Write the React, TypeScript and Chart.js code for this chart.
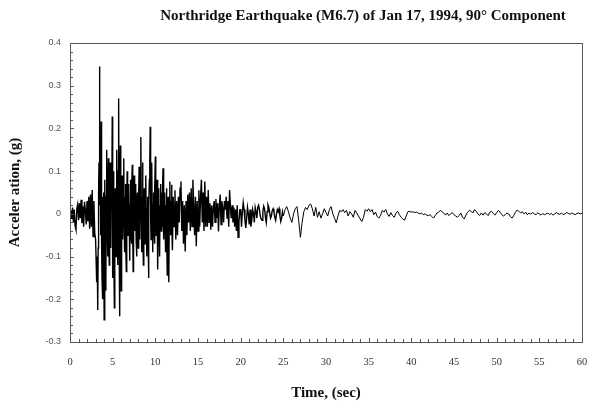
import React, { useEffect, useRef } from "react";
import { Chart, registerables } from "chart.js";

Chart.register(...registerables);

// Acceleration (g), every 0.1 s, 0.0 – 2.9 s
const accelPre: number[] = [
  0.000, 0.008, -0.012, 0.015, -0.020, 0.010, -0.028, -0.037, 0.012, 0.022,
  -0.015, 0.025, -0.010, 0.033, -0.022, 0.018, -0.030, 0.028, 0.010, -0.025,
  0.030, -0.018, 0.040, -0.035, 0.045, -0.030, 0.056, -0.053, 0.030, -0.045,
];

// Acceleration (g), every 0.05 s, 3.00 – 11.95 s (one row per second)
const accelStrong: number[] = [
  -0.060, -0.100, -0.140, -0.160, -0.120, -0.225, -0.080, 0.050, 0.120, 0.345, 0.020, 0.100, -0.050, 0.216, -0.060, -0.150, 0.040, -0.200, -0.100, 0.050,
  -0.248, -0.040, 0.080, -0.060, -0.180, 0.040, 0.150, -0.020, -0.100, 0.060, 0.130, -0.050, -0.120, 0.030, 0.120, -0.060, -0.080, 0.100, 0.020, 0.228,
  -0.150, 0.040, 0.100, -0.080, -0.220, 0.020, 0.060, -0.060, -0.100, 0.080, 0.150, -0.030, -0.120, 0.100, 0.270, -0.050, -0.240, 0.060, 0.160, -0.040,
  -0.180, 0.030, 0.090, -0.040, -0.060, 0.080, 0.130, -0.020, -0.090, 0.040, 0.070, -0.070, -0.135, 0.020, 0.100, -0.030, -0.050, 0.070, 0.060, -0.020,
  -0.110, 0.020, 0.080, -0.050, -0.070, 0.060, 0.115, -0.040, -0.135, 0.030, 0.090, -0.010, -0.040, 0.050, 0.070, -0.060, -0.100, 0.020, 0.050, -0.030,
  -0.080, 0.050, 0.110, -0.020, -0.060, 0.070, 0.180, 0.030, -0.090, 0.040, 0.120, -0.040, -0.120, 0.010, 0.060, -0.030, -0.070, 0.040, 0.090, -0.020,
  -0.100, 0.010, 0.040, -0.060, -0.150, 0.020, 0.080, 0.120, 0.204, -0.010, -0.060, 0.050, 0.120, -0.030, -0.090, 0.020, 0.050, -0.040, -0.070, 0.060,
  0.134, 0.020, -0.050, 0.030, 0.080, -0.060, -0.130, 0.010, 0.060, -0.040, -0.100, 0.020, 0.070, -0.010, -0.040, 0.050, -0.030, 0.060, 0.107, -0.020,
  -0.060, 0.010, 0.050, -0.040, -0.090, 0.020, 0.060, -0.050, -0.143, 0.010, 0.040, -0.070, -0.160, 0.030, 0.076, -0.010, -0.050, 0.030, 0.068, -0.020,
];

// Acceleration (g), every 0.1 s, 12.0 – 24.9 s (one row per second)
const accelCoda: number[] = [
  -0.085, 0.040, -0.030, 0.055, -0.060, 0.030, -0.050, 0.040, -0.020, 0.060,
  0.076, -0.040, 0.030, -0.070, 0.020, -0.088, 0.030, -0.050, 0.045, -0.020,
  0.050, -0.040, 0.060, -0.030, 0.080, 0.020, -0.050, 0.040, -0.076, 0.030,
  -0.040, 0.055, -0.030, 0.040, 0.080, -0.020, 0.050, -0.040, 0.076, -0.030,
  0.040, -0.030, 0.056, -0.020, 0.025, -0.037, 0.020, -0.030, 0.015, 0.030,
  -0.020, 0.035, -0.010, 0.025, -0.041, 0.020, 0.045, -0.025, 0.030, 0.015,
  -0.020, 0.030, 0.010, 0.040, -0.010, 0.030, -0.030, 0.056, 0.015, -0.010,
  0.020, -0.020, 0.015, -0.030, 0.010, -0.040, 0.020, -0.055, -0.020, 0.010,
  0.010, -0.030, 0.005, 0.026, 0.010, -0.015, -0.033, -0.010, 0.015, 0.000,
  -0.025, 0.010, -0.030, -0.015, 0.010, 0.000, -0.020, 0.015, 0.005, -0.010,
  0.015, 0.020, 0.010, -0.005, -0.012, -0.015, 0.005, 0.018, 0.012, -0.008,
  -0.020, 0.005, 0.021, 0.015, 0.003, -0.010, -0.005, 0.008, 0.012, 0.004,
  -0.008, -0.015, 0.000, 0.010, 0.005, 0.012, -0.005, -0.018, -0.010, 0.005,
];

// Acceleration (g), every 0.2 s, 25.0 – 60.0 s
const accelTail: number[] = [
  -0.005, 0.010, 0.017, 0.005, -0.010,
  -0.020, 0.000, 0.012, 0.017, -0.015,
  -0.055, -0.020, 0.005, 0.015, 0.010,
  0.020, 0.023, 0.012, -0.005, 0.015,
  -0.008, 0.005, -0.010, 0.000, 0.012,
  0.003, -0.005, 0.010, 0.017, 0.000,
  -0.010, -0.021, -0.005, 0.008, 0.005,
  0.010, 0.003, 0.008, -0.005, 0.005,
  0.000, -0.008, 0.008, 0.002, -0.005,
  -0.012, -0.018, -0.008, 0.010, 0.006,
  0.012, 0.005, 0.010, -0.002, 0.004,
  -0.006, -0.010, -0.003, 0.008, 0.004,
  0.010, 0.000, -0.006, 0.003, -0.004,
  -0.008, 0.002, 0.006, -0.002, -0.008,
  -0.012, -0.015, -0.005, 0.005, 0.006,
  0.004, 0.005, 0.003, 0.004, 0.002,
  0.000, 0.002, -0.002, 0.000, -0.003,
  -0.004, -0.002, -0.006, -0.010, -0.004,
  0.002, 0.004, 0.008, 0.005, 0.002,
  -0.003, 0.002, -0.004, 0.000, 0.003,
  -0.002, -0.005, -0.008, -0.004, 0.002,
  -0.008, -0.012, -0.003, 0.004, 0.008,
  0.006, 0.002, 0.010, 0.006, 0.000,
  -0.004, 0.002, -0.003, 0.003, 0.000,
  -0.004, 0.004, 0.006, 0.001, -0.003,
  0.003, 0.008, 0.004, -0.002, -0.005,
  -0.002, 0.002, 0.000, -0.006, -0.010,
  -0.004, 0.004, 0.009, 0.006, 0.002,
  0.005, 0.000, 0.004, -0.002, 0.002,
  -0.001, 0.003, 0.000, -0.002, 0.002,
  0.000, -0.003, 0.001, -0.002, 0.000,
  0.002, -0.002, 0.001, -0.003, 0.000,
  0.003, 0.000, -0.001, 0.002, -0.002,
  0.000, 0.003, 0.001, -0.001, 0.002,
  0.000, -0.002, 0.001, 0.002, 0.000,
  0.001,
];

// segments: [start time (s), sample step (s), values]
const segments: [number, number, number[]][] = [
  [0, 0.1, accelPre],
  [3, 0.05, accelStrong],
  [12, 0.1, accelCoda],
  [25, 0.2, accelTail],
];

const yTickValues = [-0.3, -0.2, -0.1, 0, 0.1, 0.2, 0.3, 0.4];
const xTickValues = [0, 5, 10, 15, 20, 25, 30, 35, 40, 45, 50, 55, 60];

const TITLE = "Northridge Earthquake (M6.7) of Jan 17, 1994, 90\u00B0 Component";
const X_TITLE = "Time, (sec)";
const Y_TITLE = "Acceler ation, (g)";

export default function App() {
  const ref = useRef<HTMLCanvasElement | null>(null);

  useEffect(() => {
    if (!ref.current) return;
    const points: { x: number; y: number }[] = [];
    segments.forEach(([start, step, vals]) => {
      vals.forEach((y, i) => points.push({ x: Math.round((start + i * step) * 1000) / 1000, y }));
    });

    const framePlugin = {
      id: "frameAndText",
      afterDraw(chart: any) {
        const { ctx, chartArea } = chart;
        const xs = chart.scales.x;
        const ys = chart.scales.y;
        ctx.save();
        ctx.strokeStyle = "#555";
        ctx.lineWidth = 1;
        ctx.strokeRect(
          Math.round(chartArea.left) + 0.5,
          Math.round(chartArea.top) + 0.5,
          Math.round(chartArea.right - chartArea.left),
          Math.round(chartArea.bottom - chartArea.top)
        );
        ctx.beginPath();
        for (let s = 0; s <= 60; s += 1) {
          const px = Math.round(xs.getPixelForValue(s)) + 0.5;
          const len = s % 5 === 0 ? 4 : 3;
          ctx.moveTo(px, chartArea.bottom);
          ctx.lineTo(px, chartArea.bottom - len);
        }
        for (let k = -15; k <= 20; k++) {
          const v = k * 0.02;
          const py = Math.round(ys.getPixelForValue(v)) + 0.5;
          const len = k % 5 === 0 ? 4 : 3;
          ctx.moveTo(chartArea.left, py);
          ctx.lineTo(chartArea.left + len, py);
        }
        ctx.stroke();

        ctx.fillStyle = "#111";
        ctx.textAlign = "center";
        ctx.textBaseline = "middle";
        ctx.font = "bold 15px 'Liberation Serif', 'Times New Roman', serif";
        ctx.fillText(TITLE, 363, 16);
        ctx.fillText(X_TITLE, (chartArea.left + chartArea.right) / 2, 393);
        ctx.translate(15, (chartArea.top + chartArea.bottom) / 2);
        ctx.rotate(-Math.PI / 2);
        ctx.fillText(Y_TITLE, 0, 0);
        ctx.restore();
      },
    };

    const chart = new Chart(ref.current, {
      type: "line",
      data: {
        datasets: [
          {
            data: points,
            borderColor: "#000",
            borderWidth: 1.4,
            pointRadius: 0,
            tension: 0,
            fill: false,
            segment: {
              borderWidth: (c: any) => (c.p0.parsed.x >= 25 ? 1 : 1.4),
            },
          } as any,
        ],
      },
      options: {
        animation: false,
        responsive: true,
        maintainAspectRatio: false,
        layout: { padding: { top: 43, right: 7, left: 0, bottom: 0 } },
        plugins: { legend: { display: false }, title: { display: false }, tooltip: { enabled: false } },
        scales: {
          x: {
            type: "linear",
            min: 0,
            max: 60,
            afterFit: (s: any) => {
              s.height = 66;
              s.paddingLeft = 0;
              s.paddingRight = 0;
            },
            afterBuildTicks: (s: any) => {
              s.ticks = xTickValues.map((v) => ({ value: v }));
            },
            grid: { display: false, drawTicks: false },
            border: { display: false },
            ticks: {
              padding: 14,
              color: "#333",
              font: { family: "'Liberation Serif', serif", size: 10.5 },
              maxRotation: 0,
              callback: (v: any) => String(v),
            },
          },
          y: {
            type: "linear",
            min: -0.3,
            max: 0.4,
            afterFit: (s: any) => {
              s.width = 70;
              s.paddingTop = 0;
              s.paddingBottom = 0;
            },
            afterBuildTicks: (s: any) => {
              s.ticks = yTickValues.map((v) => ({ value: v }));
            },
            grid: { display: false, drawTicks: false },
            border: { display: false },
            ticks: {
              padding: 9,
              color: "#555",
              font: { family: "'Liberation Sans', Arial, sans-serif", size: 9 },
              callback: (v: any) => {
                const n = Math.round(Number(v) * 10) / 10;
                return n === 0 ? "0" : String(n);
              },
            },
          },
        },
      },
      plugins: [framePlugin],
    });
    return () => chart.destroy();
  }, []);

  return (
    <div style={{ position: "fixed", left: 0, top: 0, width: 589, height: 408, background: "#fff" }}>
      <canvas ref={ref} />
    </div>
  );
}
